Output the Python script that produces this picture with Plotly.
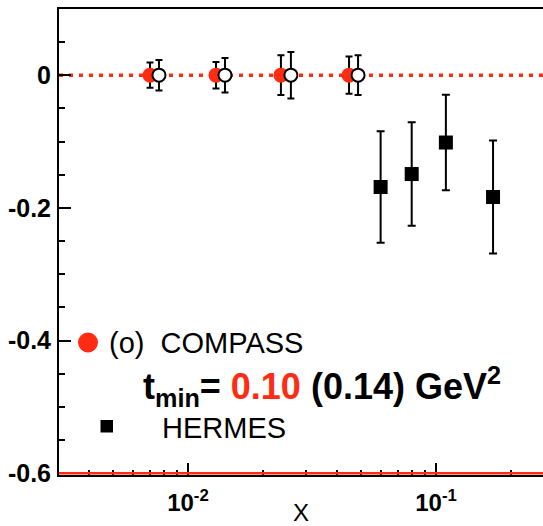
import plotly.graph_objects as go
import numpy as np

# ---- data ----
compass_x_010 = [0.00703, 0.01297, 0.0237, 0.0446]
compass_y_010 = [0.0, 0.0, 0.0, 0.0]
compass_err_010 = [0.019, 0.020, 0.030, 0.028]

compass_x_014 = [0.00764, 0.0141, 0.0260, 0.0485]
compass_y_014 = [0.0, 0.0, 0.0, 0.0]
compass_err_014 = [0.023, 0.026, 0.035, 0.030]

hermes_x = [0.0598, 0.0798, 0.1096, 0.1698]
hermes_y = [-0.1685, -0.149, -0.1015, -0.1836]
hermes_err = [0.084, 0.078, 0.072, 0.085]

y_ticks = [0, -0.2, -0.4, -0.6]
y_ticklabels = ["0", "-0.2", "-0.4", "-0.6"]
x_ticks = [0.01, 0.1]
x_ticklabels = ["10<sup>-2</sup>", "10<sup>-1</sup>"]
x_minor = [m * 10.0 ** e for e in (-3, -2, -1) for m in range(2, 10)]
y_minor = [round(v, 2) for v in np.arange(-0.6, 0.101, 0.05)]

RED = "#ff2b12"
FONT = "Liberation Sans, Arial, Helvetica, sans-serif"

fig = go.Figure()

fig.add_trace(go.Scatter(
    x=compass_x_010, y=compass_y_010, mode="markers",
    marker=dict(symbol="circle", size=15, color=RED, line=dict(width=0)),
    error_y=dict(type="data", array=compass_err_010, color="black", thickness=2, width=3.5),
    showlegend=False))
fig.add_trace(go.Scatter(
    x=compass_x_014, y=compass_y_014, mode="markers",
    marker=dict(symbol="circle", size=13, color="white", line=dict(width=2, color="black")),
    error_y=dict(type="data", array=compass_err_014, color="black", thickness=2, width=3.5),
    showlegend=False))
fig.add_trace(go.Scatter(
    x=hermes_x, y=hermes_y, mode="markers",
    marker=dict(symbol="square", size=14, color="black"),
    error_y=dict(type="data", array=hermes_err, color="black", thickness=2, width=4),
    showlegend=False))

# reference lines
fig.add_shape(type="line", xref="paper", yref="y", x0=0, x1=1, y0=0, y1=0,
              line=dict(color=RED, width=3.5, dash="4px,6px"), layer="below")
fig.add_shape(type="line", xref="paper", yref="y", x0=0, x1=1, y0=-0.6, y1=-0.6,
              line=dict(color=RED, width=2.5), layer="above")

# legend decorations
def px2x(px):
    return (px - 59) / 484.0

def py2y(py):
    return (475 - py) / 466.0

fig.add_shape(type="circle", xref="paper", yref="paper",
              x0=px2x(78), x1=px2x(98), y0=py2y(352.5), y1=py2y(332.5),
              fillcolor=RED, line=dict(width=0))
fig.add_shape(type="rect", xref="paper", yref="paper",
              x0=px2x(100.5), x1=px2x(113), y0=py2y(432.5), y1=py2y(420),
              fillcolor="black", line=dict(width=0))

fig.add_annotation(xref="paper", yref="paper", x=px2x(107), y=py2y(343),
                   xanchor="left", yanchor="middle", showarrow=False,
                   text="(o)  COMPASS", font=dict(family=FONT, size=29, color="black"))
fig.add_annotation(xref="paper", yref="paper", x=px2x(141), y=py2y(386),
                   xanchor="left", yanchor="middle", showarrow=False,
                   text="t<sub>min</sub>= <span style='color:" + RED + "'>0.10</span> (0.14) GeV<sup>2</sup>",
                   font=dict(family=FONT, size=36, color="black", weight="bold"))
fig.add_annotation(xref="paper", yref="paper", x=px2x(160), y=py2y(428),
                   xanchor="left", yanchor="middle", showarrow=False,
                   text="HERMES", font=dict(family=FONT, size=29, color="black"))

fig.update_layout(
    width=543, height=526,
    margin=dict(l=59, r=0, t=9, b=51),
    paper_bgcolor="white", plot_bgcolor="white",
    font=dict(family=FONT, color="black"),
    xaxis=dict(
        type="log", range=[np.log10(0.00302), np.log10(0.27)],
        automargin=False,
        showgrid=False, zeroline=False,
        showline=True, linecolor="black", linewidth=2, mirror=True,
        ticks="inside", ticklen=12, tickwidth=2, tickcolor="black",
        tickmode="array", tickvals=x_ticks, ticktext=x_ticklabels,
        tickfont=dict(size=24, family=FONT, weight="bold"),
        ticklabelstandoff=5,
        minor=dict(ticks="inside", ticklen=5, tickwidth=2, tickcolor="black",
                   tickmode="array", tickvals=x_minor, showgrid=False),
        title=dict(text="X", font=dict(size=24, family=FONT), standoff=0),
    ),
    yaxis=dict(
        range=[-0.6025, 0.0997],
        automargin=False,
        showgrid=False, zeroline=False,
        showline=True, linecolor="black", linewidth=2,
        ticks="inside", ticklen=12, tickwidth=2, tickcolor="black",
        tickmode="array", tickvals=y_ticks, ticktext=y_ticklabels,
        tickfont=dict(size=25, family=FONT, weight="bold"),
        ticklabelstandoff=1,
        minor=dict(ticks="inside", ticklen=6, tickwidth=2, tickcolor="black",
                   tickmode="array", tickvals=y_minor, showgrid=False),
    ),
)

fig.write_html("out.html")
